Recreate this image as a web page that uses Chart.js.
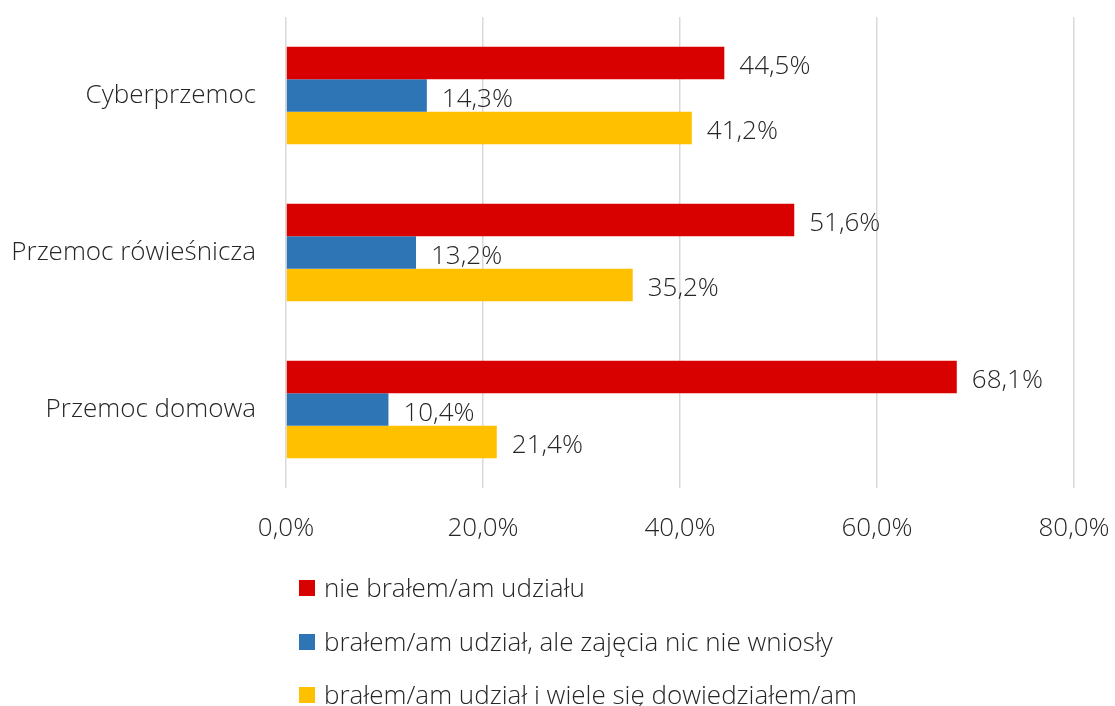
<!DOCTYPE html>
<html>
<head>
<meta charset="utf-8">
<script src="https://cdn.jsdelivr.net/npm/chart.js@4"></script>
<style>
  html, body { margin: 0; padding: 0; background: #fff; }
  #wrap { width: 1115px; height: 706px; }
</style>
</head>
<body>
<div id="wrap"><canvas id="barChart"></canvas></div>
<script>
const categories = ["Cyberprzemoc", "Przemoc rówieśnicza", "Przemoc domowa"];
const seriesNames = [
    "nie brałem/am udziału",
    "brałem/am udział, ale zajęcia nic nie wniosły",
    "brałem/am udział i wiele się dowiedziałem/am"
];
const noParticipation = [44.5, 51.6, 68.1];
const nothingLearned = [14.3, 13.2, 10.4];
const learnedMuch = [41.2, 35.2, 21.4];
const xTicks = [0, 20, 40, 60, 80];

const colors = ['#D90000', '#2E75B6', '#FFC000'];
const fontFamily = "'Open Sans', 'Noto Sans', sans-serif";
const textColor = '#262626';
const fontSize = 26;

function fmt(v) {
    return v.toFixed(1).replace('.', ',') + '%';
}

// labels at the end of each bar
const valueLabels = {
    id: 'valueLabels',
    afterDatasetsDraw(chart) {
        const ctx = chart.ctx;
        ctx.save();
        ctx.font = '300 ' + fontSize + 'px ' + fontFamily;
        ctx.fillStyle = textColor;
        ctx.textAlign = 'left';
        ctx.textBaseline = 'middle';
        chart.data.datasets.forEach((ds, i) => {
            chart.getDatasetMeta(i).data.forEach((bar, j) => {
                ctx.fillText(fmt(ds.data[j]), bar.x + 15, bar.y + 4);
            });
        });
        ctx.restore();
    }
};

// vertical legend below the axis
const stackedLegend = {
    id: 'stackedLegend',
    afterDraw(chart) {
        const ctx = chart.ctx;
        ctx.save();
        ctx.font = '300 ' + fontSize + 'px ' + fontFamily;
        ctx.textBaseline = 'middle';
        ctx.textAlign = 'left';
        const rows = [588, 642, 695];
        chart.data.datasets.forEach((ds, i) => {
            const y = rows[i];
            ctx.fillStyle = ds.backgroundColor;
            ctx.fillRect(299, y - 8, 16, 16);
            ctx.fillStyle = textColor;
            ctx.fillText(ds.label, 324, y + 2);
        });
        ctx.restore();
    }
};

const ctx = document.getElementById('barChart').getContext('2d');
const myBarChart = new Chart(ctx, {
    type: 'bar',
    data: {
        labels: categories,
        datasets: [
            { label: seriesNames[0], data: noParticipation, backgroundColor: colors[0] },
            { label: seriesNames[1], data: nothingLearned, backgroundColor: colors[1] },
            { label: seriesNames[2], data: learnedMuch, backgroundColor: colors[2] }
        ]
    },
    options: {
        indexAxis: 'y',
        responsive: true,
        maintainAspectRatio: false,
        animation: false,
        datasets: {
            bar: { categoryPercentage: 0.62, barPercentage: 1.0 }
        },
        layout: {
            padding: { top: 17, right: 41, bottom: 164, left: 0 }
        },
        plugins: {
            legend: { display: false },
            tooltip: { enabled: false }
        },
        scales: {
            x: {
                min: 0,
                max: 80,
                afterBuildTicks: scale => {
                    scale.ticks = xTicks.map(v => ({ value: v }));
                },
                afterFit: scale => {
                    scale.height = 54;
                    scale.paddingLeft = 0;
                    scale.paddingRight = 0;
                },
                ticks: {
                    padding: 25,
                    color: textColor,
                    font: { family: fontFamily, size: fontSize, weight: 300 },
                    callback: v => fmt(v)
                },
                grid: { color: '#D9D9D9', lineWidth: 1.5, drawTicks: false },
                border: { display: false }
            },
            y: {
                afterFit: scale => {
                    scale.width = 286;
                    scale.paddingTop = 0;
                    scale.paddingBottom = 0;
                },
                ticks: {
                    padding: 30,
                    color: textColor,
                    font: { family: fontFamily, size: fontSize, weight: 300 }
                },
                grid: { display: false, drawTicks: false },
                border: { display: false }
            }
        }
    },
    plugins: [valueLabels, stackedLegend]
});
</script>
</body>
</html>
